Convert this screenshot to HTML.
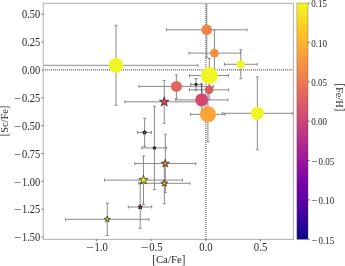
<!DOCTYPE html>
<html><head><meta charset="utf-8"><title>[Sc/Fe] vs [Ca/Fe]</title>
<style>html,body{margin:0;padding:0;background:#fff}svg{display:block;will-change:transform}text{font-family:"Liberation Serif","DejaVu Serif",serif;fill:#262626}</style></head><body>
<svg width="345" height="266" viewBox="0 0 345 266">
<rect width="345" height="266" fill="#fff"/>
<defs><clipPath id="ax"><rect x="43.25" y="3.30" width="250.15" height="236.10"/></clipPath>
<linearGradient id="cb" x1="0" y1="0" x2="0" y2="1"><stop offset="0.0000" stop-color="#f0f921"/><stop offset="0.0625" stop-color="#f6de24"/><stop offset="0.1250" stop-color="#fdc328"/><stop offset="0.1875" stop-color="#faac34"/><stop offset="0.2500" stop-color="#f89441"/><stop offset="0.3125" stop-color="#ee804f"/><stop offset="0.3750" stop-color="#e56b5d"/><stop offset="0.4375" stop-color="#d8586b"/><stop offset="0.5000" stop-color="#cb4679"/><stop offset="0.5625" stop-color="#ba3488"/><stop offset="0.6250" stop-color="#a82296"/><stop offset="0.6875" stop-color="#92129f"/><stop offset="0.7500" stop-color="#7d03a8"/><stop offset="0.8125" stop-color="#6403a4"/><stop offset="0.8750" stop-color="#4b03a1"/><stop offset="0.9375" stop-color="#2c0694"/><stop offset="1.0000" stop-color="#0d0887"/></linearGradient></defs>
<g clip-path="url(#ax)">
<line x1="44.85" y1="69.90" x2="293.40" y2="69.90" stroke="#4a4a4a" stroke-width="1.3" stroke-dasharray="0.95 1.05"/>
<line x1="205.85" y1="3.90" x2="205.85" y2="239.40" stroke="#4a4a4a" stroke-width="1.3" stroke-dasharray="0.95 1.05"/>
<path d="M34.00 65.30H197.90M116.00 25.30V105.30M34.00 63.80v3.00M197.90 63.80v3.00M114.50 25.30h3.00M114.50 105.30h3.00" stroke="#858589" stroke-width="0.95" fill="none"/>
<path d="M166.60 29.80H246.90M206.75 -10.00V57.40M166.60 28.30v3.00M246.90 28.30v3.00M205.25 -10.00h3.00M205.25 57.40h3.00" stroke="#858589" stroke-width="0.95" fill="none"/>
<path d="M189.00 53.10H240.50M214.45 29.60V76.60M189.00 51.60v3.00M240.50 51.60v3.00M212.95 29.60h3.00M212.95 76.60h3.00" stroke="#858589" stroke-width="0.95" fill="none"/>
<path d="M224.50 64.30H257.10M240.80 49.80V78.80M224.50 62.80v3.00M257.10 62.80v3.00M239.30 49.80h3.00M239.30 78.80h3.00" stroke="#858589" stroke-width="0.95" fill="none"/>
<path d="M139.00 86.40H213.70M176.40 74.90V98.50M139.00 84.90v3.00M213.70 84.90v3.00M174.90 74.90h3.00M174.90 98.50h3.00" stroke="#858589" stroke-width="0.95" fill="none"/>
<path d="M189.50 89.80H228.60M209.20 80.00V99.60M189.50 88.30v3.00M228.60 88.30v3.00M207.70 80.00h3.00M207.70 99.60h3.00" stroke="#858589" stroke-width="0.95" fill="none"/>
<path d="M175.70 99.90H227.90M201.70 84.00V115.80M175.70 98.40v3.00M227.90 98.40v3.00M200.20 84.00h3.00M200.20 115.80h3.00" stroke="#858589" stroke-width="0.95" fill="none"/>
<path d="M190.55 114.35H225.10M207.90 87.00V141.70M190.55 112.85v3.00M225.10 112.85v3.00M206.40 87.00h3.00M206.40 141.70h3.00" stroke="#858589" stroke-width="0.95" fill="none"/>
<path d="M222.40 113.30H292.30M257.35 77.00V149.80M222.40 111.80v3.00M292.30 111.80v3.00M255.85 77.00h3.00M255.85 149.80h3.00" stroke="#858589" stroke-width="0.95" fill="none"/>
<path d="M189.50 75.50H228.40M209.30 58.50V92.50M189.50 74.00v3.00M228.40 74.00v3.00M207.80 58.50h3.00M207.80 92.50h3.00" stroke="#858589" stroke-width="0.95" fill="none"/>
<path d="M190.70 84.40H201.40M196.00 78.60V90.20M190.70 82.90v3.00M201.40 82.90v3.00M194.50 78.60h3.00M194.50 90.20h3.00" stroke="#77777b" stroke-width="0.95" fill="none"/>
<path d="M201.7 84.0V94" stroke="#444" stroke-width="0.9" fill="none"/>
<path d="M124.70 101.85H203.80M164.25 80.40V123.40M124.70 100.35v3.00M203.80 100.35v3.00M162.75 80.40h3.00M162.75 123.40h3.00" stroke="#858589" stroke-width="0.95" fill="none"/>
<path d="M137.50 132.45H151.40M144.60 118.30V146.50M137.50 130.95v3.00M151.40 130.95v3.00M143.10 118.30h3.00M143.10 146.50h3.00" stroke="#858589" stroke-width="0.95" fill="none"/>
<path d="M141.80 147.90H166.70M154.45 106.30V189.60M141.80 146.40v3.00M166.70 146.40v3.00M152.95 106.30h3.00M152.95 189.60h3.00" stroke="#858589" stroke-width="0.95" fill="none"/>
<path d="M134.70 163.55H195.70M165.30 134.25V192.50M134.70 162.05v3.00M195.70 162.05v3.00M163.80 134.25h3.00M163.80 192.50h3.00" stroke="#858589" stroke-width="0.95" fill="none"/>
<path d="M104.50 180.10H182.50M143.50 156.00V204.50M104.50 178.60v3.00M182.50 178.60v3.00M142.00 156.00h3.00M142.00 204.50h3.00" stroke="#858589" stroke-width="0.95" fill="none"/>
<path d="M138.70 183.30H189.90M164.35 162.20V203.80M138.70 181.80v3.00M189.90 181.80v3.00M162.85 162.20h3.00M162.85 203.80h3.00" stroke="#858589" stroke-width="0.95" fill="none"/>
<path d="M128.30 207.00H151.70M140.20 183.00V228.30M128.30 205.50v3.00M151.70 205.50v3.00M138.70 183.00h3.00M138.70 228.30h3.00" stroke="#858589" stroke-width="0.95" fill="none"/>
<path d="M65.60 219.30H148.90M107.30 203.30V235.50M65.60 217.80v3.00M148.90 217.80v3.00M105.80 203.30h3.00M105.80 235.50h3.00" stroke="#858589" stroke-width="0.95" fill="none"/>
<circle cx="116.00" cy="65.30" r="7.40" fill="#f0f623"/>
<circle cx="206.75" cy="29.80" r="5.35" fill="#ef8443"/>
<circle cx="214.45" cy="53.10" r="4.30" fill="#f68c3c"/>
<circle cx="240.80" cy="64.30" r="4.15" fill="#f0f623"/>
<circle cx="176.40" cy="86.40" r="5.50" fill="#e6645f"/>
<circle cx="209.20" cy="89.80" r="4.20" fill="#e0585f"/>
<circle cx="201.70" cy="99.90" r="6.50" fill="#d4486c"/>
<circle cx="207.90" cy="114.35" r="8.10" fill="#fca438"/>
<circle cx="257.35" cy="113.30" r="6.50" fill="#f0f623"/>
<circle cx="196.00" cy="84.40" r="1.40" fill="#111"/>
<circle cx="209.30" cy="75.50" r="8.50" fill="#f0f623"/>
<polygon points="164.25,96.85 165.37,100.30 169.01,100.30 166.07,102.44 167.19,105.90 164.25,103.76 161.31,105.90 162.43,102.44 159.49,100.30 163.13,100.30" fill="#e2485a" stroke="#1c1410" stroke-width="0.70" stroke-linejoin="miter"/>
<polygon points="144.60,130.35 145.07,131.80 146.60,131.80 145.36,132.70 145.83,134.15 144.60,133.25 143.37,134.15 143.84,132.70 142.60,131.80 144.13,131.80" fill="#e87a30" stroke="#1c1410" stroke-width="1.00" stroke-linejoin="miter"/>
<polygon points="154.45,146.15 154.84,147.36 156.11,147.36 155.09,148.11 155.48,149.32 154.45,148.57 153.42,149.32 153.81,148.11 152.79,147.36 154.06,147.36" fill="#6f7010" stroke="#1c1410" stroke-width="1.00" stroke-linejoin="miter"/>
<polygon points="165.30,159.40 166.23,162.27 169.25,162.27 166.81,164.04 167.74,166.91 165.30,165.14 162.86,166.91 163.79,164.04 161.35,162.27 164.37,162.27" fill="#f08238" stroke="#1c1410" stroke-width="0.70" stroke-linejoin="miter"/>
<polygon points="143.50,175.25 144.59,178.60 148.11,178.60 145.26,180.67 146.35,184.02 143.50,181.95 140.65,184.02 141.74,180.67 138.89,178.60 142.41,178.60" fill="#f0f623" stroke="#1c1410" stroke-width="0.70" stroke-linejoin="miter"/>
<polygon points="164.35,179.70 165.16,182.19 167.77,182.19 165.66,183.72 166.47,186.21 164.35,184.68 162.23,186.21 163.04,183.72 160.93,182.19 163.54,182.19" fill="#fbac26" stroke="#1c1410" stroke-width="0.70" stroke-linejoin="miter"/>
<polygon points="140.20,204.70 140.72,206.29 142.39,206.29 141.04,207.27 141.55,208.86 140.20,207.88 138.85,208.86 139.36,207.27 138.01,206.29 139.68,206.29" fill="#ea5830" stroke="#1c1410" stroke-width="1.00" stroke-linejoin="miter"/>
<polygon points="107.30,216.20 108.00,218.34 110.25,218.34 108.43,219.67 109.12,221.81 107.30,220.48 105.48,221.81 106.17,219.67 104.35,218.34 106.60,218.34" fill="#f0f623" stroke="#1c1410" stroke-width="0.70" stroke-linejoin="miter"/>
</g>
<rect x="43.25" y="3.30" width="250.15" height="236.10" fill="none" stroke="#aeaeae" stroke-width="1"/>
<line x1="41.55" y1="14.18" x2="43.25" y2="14.18" stroke="#2a2a2a" stroke-width="0.7"/>
<text transform="translate(40.15 18.43) scale(1.000 1.110)" font-size="10.40" text-anchor="end">0.50</text>
<line x1="41.55" y1="42.04" x2="43.25" y2="42.04" stroke="#2a2a2a" stroke-width="0.7"/>
<text transform="translate(40.15 46.29) scale(1.000 1.110)" font-size="10.40" text-anchor="end">0.25</text>
<line x1="41.55" y1="69.90" x2="43.25" y2="69.90" stroke="#2a2a2a" stroke-width="0.7"/>
<text transform="translate(40.15 74.15) scale(1.000 1.110)" font-size="10.40" text-anchor="end">0.00</text>
<line x1="41.55" y1="97.76" x2="43.25" y2="97.76" stroke="#2a2a2a" stroke-width="0.7"/>
<g transform="translate(40.15 102.01) scale(1.000 1.110)"><text x="-18.20" y="0" font-size="10.40">0.25</text><text transform="translate(-26.43 0) scale(1.30 1)" font-size="10.40">−</text></g>
<line x1="41.55" y1="125.62" x2="43.25" y2="125.62" stroke="#2a2a2a" stroke-width="0.7"/>
<g transform="translate(40.15 129.88) scale(1.000 1.110)"><text x="-18.20" y="0" font-size="10.40">0.50</text><text transform="translate(-26.43 0) scale(1.30 1)" font-size="10.40">−</text></g>
<line x1="41.55" y1="153.49" x2="43.25" y2="153.49" stroke="#2a2a2a" stroke-width="0.7"/>
<g transform="translate(40.15 157.74) scale(1.000 1.110)"><text x="-18.20" y="0" font-size="10.40">0.75</text><text transform="translate(-26.43 0) scale(1.30 1)" font-size="10.40">−</text></g>
<line x1="41.55" y1="181.35" x2="43.25" y2="181.35" stroke="#2a2a2a" stroke-width="0.7"/>
<g transform="translate(40.15 185.60) scale(1.000 1.110)"><text x="-18.20" y="0" font-size="10.40">1.00</text><text transform="translate(-26.43 0) scale(1.30 1)" font-size="10.40">−</text></g>
<line x1="41.55" y1="209.21" x2="43.25" y2="209.21" stroke="#2a2a2a" stroke-width="0.7"/>
<g transform="translate(40.15 213.46) scale(1.000 1.110)"><text x="-18.20" y="0" font-size="10.40">1.25</text><text transform="translate(-26.43 0) scale(1.30 1)" font-size="10.40">−</text></g>
<line x1="41.55" y1="237.08" x2="43.25" y2="237.08" stroke="#2a2a2a" stroke-width="0.7"/>
<g transform="translate(40.15 241.33) scale(1.000 1.110)"><text x="-18.20" y="0" font-size="10.40">1.50</text><text transform="translate(-26.43 0) scale(1.30 1)" font-size="10.40">−</text></g>
<line x1="96.45" y1="239.40" x2="96.45" y2="241.10" stroke="#2a2a2a" stroke-width="0.7"/>
<g transform="translate(96.95 250.70) scale(1.030 1.110)"><text x="-2.39" y="0" font-size="10.40">1.0</text><text transform="translate(-10.61 0) scale(1.30 1)" font-size="10.40">−</text></g>
<line x1="151.15" y1="239.40" x2="151.15" y2="241.10" stroke="#2a2a2a" stroke-width="0.7"/>
<g transform="translate(151.65 250.70) scale(1.030 1.110)"><text x="-2.39" y="0" font-size="10.40">0.5</text><text transform="translate(-10.61 0) scale(1.30 1)" font-size="10.40">−</text></g>
<line x1="205.85" y1="239.40" x2="205.85" y2="241.10" stroke="#2a2a2a" stroke-width="0.7"/>
<text transform="translate(205.85 250.70) scale(1.030 1.110)" font-size="10.40" text-anchor="middle">0.0</text>
<line x1="260.55" y1="239.40" x2="260.55" y2="241.10" stroke="#2a2a2a" stroke-width="0.7"/>
<text transform="translate(260.55 250.70) scale(1.030 1.110)" font-size="10.40" text-anchor="middle">0.5</text>
<g transform="translate(168.80 263.30) scale(1.040 1.030)" font-size="10.40"><text transform="translate(-15.89 0.50) scale(1 1.16)">[</text><text x="-12.42" y="0">Ca/Fe</text><text transform="translate(12.42 0.50) scale(1 1.16)">]</text></g>
<g transform="translate(7.90 121.00) rotate(-90) scale(1.000 1.030)" font-size="10.40"><text transform="translate(-15.31 0.50) scale(1 1.16)">[</text><text x="-11.85" y="0">Sc/Fe</text><text transform="translate(11.85 0.50) scale(1 1.16)">]</text></g>
<rect x="296.90" y="3.05" width="11.10" height="236.25" fill="url(#cb)"/>
<rect x="296.90" y="3.05" width="11.10" height="236.25" fill="none" stroke="#333" stroke-opacity="0.5" stroke-width="0.6"/>
<line x1="308.00" y1="3.05" x2="309.70" y2="3.05" stroke="#2a2a2a" stroke-width="0.7"/>
<text transform="translate(311.30 7.35) scale(1.000 1.110)" font-size="9.00" text-anchor="start">0.15</text>
<line x1="308.00" y1="42.42" x2="309.70" y2="42.42" stroke="#2a2a2a" stroke-width="0.7"/>
<text transform="translate(311.30 46.72) scale(1.000 1.110)" font-size="9.00" text-anchor="start">0.10</text>
<line x1="308.00" y1="81.80" x2="309.70" y2="81.80" stroke="#2a2a2a" stroke-width="0.7"/>
<text transform="translate(311.30 86.10) scale(1.000 1.110)" font-size="9.00" text-anchor="start">0.05</text>
<line x1="308.00" y1="121.17" x2="309.70" y2="121.17" stroke="#2a2a2a" stroke-width="0.7"/>
<text transform="translate(311.30 125.47) scale(1.000 1.110)" font-size="9.00" text-anchor="start">0.00</text>
<line x1="308.00" y1="160.55" x2="309.70" y2="160.55" stroke="#2a2a2a" stroke-width="0.7"/>
<g transform="translate(311.30 164.85) scale(1.000 1.110)"><text x="7.20" y="0" font-size="9.00">0.05</text><text transform="translate(0.00 0) scale(1.30 1)" font-size="9.00">−</text></g>
<line x1="308.00" y1="199.93" x2="309.70" y2="199.93" stroke="#2a2a2a" stroke-width="0.7"/>
<g transform="translate(311.30 204.23) scale(1.000 1.110)"><text x="7.20" y="0" font-size="9.00">0.10</text><text transform="translate(0.00 0) scale(1.30 1)" font-size="9.00">−</text></g>
<line x1="308.00" y1="239.30" x2="309.70" y2="239.30" stroke="#2a2a2a" stroke-width="0.7"/>
<g transform="translate(311.30 243.60) scale(1.000 1.110)"><text x="7.20" y="0" font-size="9.00">0.15</text><text transform="translate(0.00 0) scale(1.30 1)" font-size="9.00">−</text></g>
<g transform="translate(336.30 97.30) rotate(90) scale(1.000 1.030)" font-size="10.40"><text transform="translate(-13.86 0.50) scale(1 1.16)">[</text><text x="-10.40" y="0">Fe/H</text><text transform="translate(10.40 0.50) scale(1 1.16)">]</text></g>
</svg></body></html>
